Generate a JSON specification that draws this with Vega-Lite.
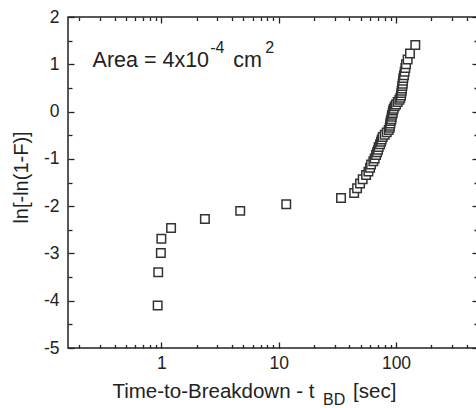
{
  "$schema": "https://vega.github.io/schema/vega-lite/v6.json",
  "width": 410,
  "height": 331,
  "autosize": {"type": "none"},
  "padding": {"left": 68, "top": 17, "right": 0, "bottom": 60},
  "background": "white",
  "config": {
    "view": {"stroke": "#222", "strokeWidth": 1.5},
    "font": "Liberation Sans",
    "axis": {
      "domain": false,
      "grid": false,
      "tickColor": "#222",
      "tickWidth": 1.3,
      "labelFont": "Liberation Sans",
      "labelFontSize": 17.5,
      "labelColor": "#222",
      "titleFont": "Liberation Sans",
      "titleFontWeight": "normal",
      "titleColor": "#222"
    }
  },
  "datasets": {
    "points": [
      {"t": 0.93, "y": -4.10}, {"t": 0.94, "y": -3.40}, {"t": 0.99, "y": -2.99}, {"t": 1.0, "y": -2.69},
      {"t": 1.21, "y": -2.46}, {"t": 2.35, "y": -2.27}, {"t": 4.7, "y": -2.10}, {"t": 11.6, "y": -1.96},
      {"t": 34, "y": -1.83}, {"t": 44, "y": -1.72}, {"t": 46.6, "y": -1.62}, {"t": 49.4, "y": -1.52},
      {"t": 52.0, "y": -1.43}, {"t": 55.6, "y": -1.34}, {"t": 58.2, "y": -1.27}, {"t": 60.1, "y": -1.19},
      {"t": 61.3, "y": -1.12}, {"t": 64.1, "y": -1.05}, {"t": 65.8, "y": -0.99}, {"t": 67.6, "y": -0.92},
      {"t": 68.9, "y": -0.86}, {"t": 70.3, "y": -0.81}, {"t": 71.2, "y": -0.75}, {"t": 73.1, "y": -0.69},
      {"t": 74.5, "y": -0.64}, {"t": 75.5, "y": -0.59}, {"t": 77.0, "y": -0.54}, {"t": 80.1, "y": -0.49},
      {"t": 83.3, "y": -0.44}, {"t": 86.6, "y": -0.39}, {"t": 88.3, "y": -0.34}, {"t": 88.9, "y": -0.30},
      {"t": 89.5, "y": -0.25}, {"t": 90.1, "y": -0.20}, {"t": 91.3, "y": -0.16}, {"t": 91.9, "y": -0.11},
      {"t": 92.5, "y": -0.07}, {"t": 93.7, "y": -0.03}, {"t": 94.3, "y": 0.02}, {"t": 95.5, "y": 0.06},
      {"t": 97.4, "y": 0.11}, {"t": 100, "y": 0.15}, {"t": 103.3, "y": 0.20}, {"t": 106.8, "y": 0.25},
      {"t": 108.9, "y": 0.29}, {"t": 110.3, "y": 0.34}, {"t": 111.0, "y": 0.39}, {"t": 111.7, "y": 0.44},
      {"t": 112.5, "y": 0.49}, {"t": 113.2, "y": 0.54}, {"t": 114.0, "y": 0.59}, {"t": 114.7, "y": 0.65},
      {"t": 115.5, "y": 0.71}, {"t": 117.0, "y": 0.77}, {"t": 118.5, "y": 0.84}, {"t": 120.1, "y": 0.92},
      {"t": 121.7, "y": 1.00}, {"t": 125.7, "y": 1.10}, {"t": 131.6, "y": 1.23}, {"t": 146.1, "y": 1.41}
    ],
    "areaText": [
      {"text": "Area = 4x10", "t": 0.259, "v": 0.953},
      {"text": "cm", "t": 4.10, "v": 0.953}
    ],
    "areaSup": [
      {"text": "-4", "t": 2.61, "v": 1.239},
      {"text": "2", "t": 7.67, "v": 1.239}
    ],
    "titleText": [
      {"text": "Time-to-Breakdown - t", "t": 0.383, "v": -6.055},
      {"text": "[sec]", "t": 43.1, "v": -6.055}
    ],
    "titleSub": [
      {"text": "BD", "t": 23.9, "v": -6.2}
    ]
  },
  "layer": [
    {
      "data": {"name": "points"},
      "mark": {"type": "point", "shape": "square", "filled": true, "fill": "white", "stroke": "#333", "strokeWidth": 1.5, "size": 72, "opacity": 1},
      "encoding": {
        "x": {
          "field": "t", "type": "quantitative",
          "scale": {"type": "log", "domain": [0.16, 500], "nice": false},
          "axis": {
            "orient": "bottom",
            "title": null,
            "values": [0.2, 0.3, 0.4, 0.5, 0.6, 0.7, 0.8, 0.9, 1, 2, 3, 4, 5, 6, 7, 8, 9, 10, 20, 30, 40, 50, 60, 70, 80, 90, 100, 200, 300, 400, 500],
            "labelExpr": "datum.value == 1 ? '1' : datum.value == 10 ? '10' : datum.value == 100 ? '100' : ''",
            "labelOverlap": false,
            "labelFlush": false,
            "tickSize": {"condition": {"test": "datum.value == 1 || datum.value == 10 || datum.value == 100", "value": -6}, "value": -3.5},
            "labelPadding": 12
          }
        },
        "y": {
          "field": "y", "type": "quantitative",
          "scale": {"domain": [-5, 2], "nice": false, "zero": false},
          "axis": {
            "orient": "left",
            "values": [-5, -4.5, -4, -3.5, -3, -2.5, -2, -1.5, -1, -0.5, 0, 0.5, 1, 1.5, 2],
            "labelExpr": "datum.value % 1 == 0 ? replace(format(datum.value, 'd'), '\u2212', '-') : ''",
            "labelOverlap": false,
            "labelFlush": false,
            "tickSize": {"condition": {"test": "datum.value % 1 == 0", "value": -6}, "value": -4},
            "labelPadding": 15,
            "title": "ln[-ln(1-F)]",
            "titleFontSize": 20,
            "titleAngle": -90,
            "titleAlign": "center",
            "titleBaseline": "bottom",
            "titleX": -37,
            "titleY": 160
          }
        }
      }
    },
    {
      "data": {"name": "points"},
      "mark": {"type": "point", "opacity": 0},
      "encoding": {
        "x": {
          "field": "t", "type": "quantitative",
          "scale": {"type": "log", "domain": [0.16, 500], "nice": false},
          "axis": {
            "orient": "top",
            "title": null,
            "labels": false,
            "values": [0.2, 0.3, 0.4, 0.5, 0.6, 0.7, 0.8, 0.9, 1, 2, 3, 4, 5, 6, 7, 8, 9, 10, 20, 30, 40, 50, 60, 70, 80, 90, 100, 200, 300, 400, 500],
            "tickSize": {"condition": {"test": "datum.value == 1 || datum.value == 10 || datum.value == 100", "value": -6}, "value": -3.5}
          }
        },
        "y": {
          "field": "y", "type": "quantitative",
          "scale": {"domain": [-5, 2], "nice": false, "zero": false},
          "axis": {
            "orient": "right",
            "title": null,
            "labels": false,
            "values": [-5, -4.5, -4, -3.5, -3, -2.5, -2, -1.5, -1, -0.5, 0, 0.5, 1, 1.5, 2],
            "tickSize": {"condition": {"test": "datum.value % 1 == 0", "value": -6}, "value": -4}
          }
        }
      }
    },
    {
      "data": {"name": "areaText"},
      "mark": {"type": "text", "align": "left", "baseline": "alphabetic", "font": "Liberation Sans", "fontSize": 21.5, "color": "#222"},
      "encoding": {
        "x": {"field": "t", "type": "quantitative", "scale": {"type": "log", "domain": [0.16, 500], "nice": false}, "axis": null},
        "y": {"field": "v", "type": "quantitative", "scale": {"domain": [-5, 2], "nice": false, "zero": false}, "axis": null},
        "text": {"field": "text"}
      }
    },
    {
      "data": {"name": "areaSup"},
      "mark": {"type": "text", "align": "left", "baseline": "alphabetic", "font": "Liberation Sans", "fontSize": 16, "color": "#222"},
      "encoding": {
        "x": {"field": "t", "type": "quantitative", "scale": {"type": "log", "domain": [0.16, 500], "nice": false}, "axis": null},
        "y": {"field": "v", "type": "quantitative", "scale": {"domain": [-5, 2], "nice": false, "zero": false}, "axis": null},
        "text": {"field": "text"}
      }
    },
    {
      "data": {"name": "titleText"},
      "mark": {"type": "text", "align": "left", "baseline": "alphabetic", "font": "Liberation Sans", "fontSize": 20.5, "color": "#222"},
      "encoding": {
        "x": {"field": "t", "type": "quantitative", "scale": {"type": "log", "domain": [0.16, 500], "nice": false}, "axis": null},
        "y": {"field": "v", "type": "quantitative", "scale": {"domain": [-5, 2], "nice": false, "zero": false}, "axis": null},
        "text": {"field": "text"}
      }
    },
    {
      "data": {"name": "titleSub"},
      "mark": {"type": "text", "align": "left", "baseline": "alphabetic", "font": "Liberation Sans", "fontSize": 16, "color": "#222"},
      "encoding": {
        "x": {"field": "t", "type": "quantitative", "scale": {"type": "log", "domain": [0.16, 500], "nice": false}, "axis": null},
        "y": {"field": "v", "type": "quantitative", "scale": {"domain": [-5, 2], "nice": false, "zero": false}, "axis": null},
        "text": {"field": "text"}
      }
    }
  ],
  "resolve": {"axis": {"x": "independent", "y": "independent"}}
}
